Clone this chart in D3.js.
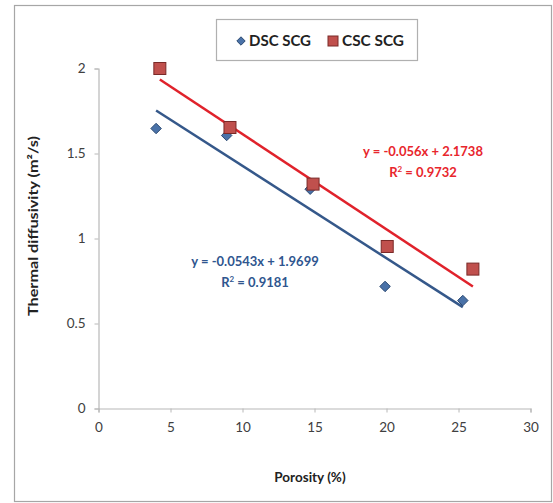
<!DOCTYPE html>
<html><head><meta charset="utf-8">
<script src="https://cdn.jsdelivr.net/npm/d3@7"></script>
<style>body{margin:0;background:#fff}svg{display:block}</style>
</head><body>
<svg id="c" width="553" height="503"></svg>
<script>
const porosityDSC = [4.0, 8.9, 14.7, 19.9, 25.3];
const diffDSC     = [1.647, 1.606, 1.29, 0.718, 0.635];
const porosityCSC = [4.26, 9.13, 14.9, 20.05, 26.0];
const diffCSC     = [2.0, 1.653, 1.32, 0.953, 0.82];
const trendDSC = {slope: -0.0543, intercept: 1.9699, r2: "0.9181"};
const trendCSC = {slope: -0.056, intercept: 2.1738, r2: "0.9732"};
const xTicks = [0, 5, 10, 15, 20, 25, 30];
const yTicks = [0, 0.5, 1, 1.5, 2];
const seriesNames = ["DSC SCG", "CSC SCG"];

const svg = d3.select("#c");
const font = "Lato, 'Open Sans', sans-serif";
svg.append("rect").attr("x",14.5).attr("y",5.5).attr("width",537).attr("height",496)
  .attr("fill","#fff").attr("stroke","#a6a6a6").attr("stroke-width",1.2);

const x = d3.scaleLinear().domain([0,30]).range([98.5,530.5]);
const y = d3.scaleLinear().domain([0,2]).range([408.5,68.5]);

const xAxis = svg.append("g").attr("transform","translate(0,408.5)")
  .call(d3.axisBottom(x).tickValues(xTicks).tickSize(4).tickPadding(10).tickFormat(d3.format("d")));
const yAxis = svg.append("g").attr("transform","translate(98.5,0)")
  .call(d3.axisLeft(y).tickValues(yTicks).tickSize(4).tickPadding(9).tickFormat(d=>String(d)));
[xAxis,yAxis].forEach(g=>{
  g.select(".domain").attr("stroke","#b8b8b8").attr("stroke-width",1.2);
  g.selectAll(".tick line").attr("stroke","#b8b8b8");
  g.selectAll("text").attr("font-family",font).attr("font-size",13.5).attr("fill","#404040");
});

svg.append("text").attr("x",310).attr("y",482).attr("text-anchor","middle")
  .attr("font-family",font).attr("font-size",13.5).attr("font-weight","bold").attr("fill","#222")
  .text("Porosity  (%)");
svg.append("text").attr("transform","translate(38,226) rotate(-90)").attr("text-anchor","middle")
  .attr("font-family",font).attr("font-size",13.5).attr("font-weight","bold").attr("fill","#222")
  .attr("textLength",180).attr("lengthAdjust","spacingAndGlyphs")
  .text("Thermal diffusivity (m²/s)");

// trendlines
function trend(xs, t, color){
  const x0 = d3.min(xs), x1 = d3.max(xs);
  svg.append("line").attr("x1",x(x0)).attr("y1",y(t.intercept+t.slope*x0))
    .attr("x2",x(x1)).attr("y2",y(t.intercept+t.slope*x1))
    .attr("stroke",color).attr("stroke-width",2.5);
}
trend(porosityDSC, trendDSC, "#35588a");
trend(porosityCSC, trendCSC, "#e0222b");

// markers
const dsc = porosityDSC.map((v,i)=>[v,diffDSC[i]]);
const csc = porosityCSC.map((v,i)=>[v,diffCSC[i]]);
svg.selectAll(".d").data(dsc).join("path")
  .attr("d", d3.symbol(d3.symbolDiamond2, 70))
  .attr("transform", d=>`translate(${x(d[0])},${y(d[1])})`)
  .attr("fill","#4a72a8").attr("stroke","#2c4a72").attr("stroke-width",1);
svg.selectAll(".s").data(csc).join("rect")
  .attr("x", d=>x(d[0])-6).attr("y", d=>y(d[1])-6).attr("width",12).attr("height",12)
  .attr("fill","#c0504d").attr("stroke","#7a2a28").attr("stroke-width",1);

// equations
function eq(t, cx, cy, color){
  const txt = `y = ${t.slope}x + ${t.intercept.toFixed(4)}`;
  svg.append("text").attr("x",cx).attr("y",cy).attr("text-anchor","middle")
    .attr("font-family",font).attr("font-size",13).attr("font-weight","bold").attr("fill",color).text(txt);
  const r = svg.append("text").attr("x",cx).attr("y",cy+21).attr("text-anchor","middle")
    .attr("font-family",font).attr("font-size",13).attr("font-weight","bold").attr("fill",color);
  r.append("tspan").text("R");
  r.append("tspan").attr("dy",-5).attr("font-size",8).text("2");
  r.append("tspan").attr("dy",5).text(" = " + t.r2);
}
eq(trendCSC, 423, 156, "#e8262d");
eq(trendDSC, 255, 266, "#2f568f");

// legend
svg.append("rect").attr("x",216.5).attr("y",19.5).attr("width",201).attr("height",41)
  .attr("fill","#fff").attr("stroke","#b0b0b0").attr("stroke-width",1.2);
const lg = svg.append("g");
lg.append("path").attr("d", d3.symbol(d3.symbolDiamond2, 45))
  .attr("transform","translate(241,41)").attr("fill","#4a72a8").attr("stroke","#2c4a72");
lg.append("text").attr("x",249).attr("y",46).attr("font-family",font).attr("font-size",14.5)
  .attr("font-weight","bold").attr("fill","#222")
  .attr("textLength",62).attr("lengthAdjust","spacingAndGlyphs").text(seriesNames[0]);
lg.append("rect").attr("x",328).attr("y",36).attr("width",10).attr("height",10)
  .attr("fill","#c0504d").attr("stroke","#7a2a28");
lg.append("text").attr("x",342).attr("y",46).attr("font-family",font).attr("font-size",14.5)
  .attr("font-weight","bold").attr("fill","#222")
  .attr("textLength",62).attr("lengthAdjust","spacingAndGlyphs").text(seriesNames[1]);
</script>
</body></html>
